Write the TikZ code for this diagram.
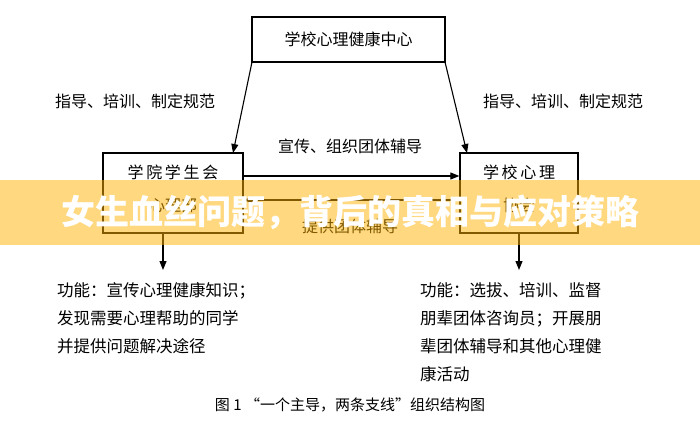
\documentclass[tikz,border=0pt]{standalone}
\usepackage{fontspec}
\setmainfont{Noto Sans CJK SC}
\usetikzlibrary{arrows.meta}
\begin{document}
\begin{tikzpicture}[x=1pt,y=-1pt,
  box/.style={draw,line width=1.3pt,inner sep=0pt},
  lbl/.style={font=\fontsize{16}{18}\selectfont},
  arr/.style={line width=1.1pt,-{Triangle[length=9pt,width=7pt]}},
  txt/.style={font=\fontsize{16.5}{28}\selectfont,align=left,anchor=north west,inner sep=0pt}]
\useasboundingbox (0,0) rectangle (700,422);
\fill[white] (0,0) rectangle (700,422);
\node[box,minimum width=193pt,minimum height=45pt,lbl] (top) at (348.5,39.5) {学校心理健康中心};
\node[box,minimum width=140pt,minimum height=80pt] (L) at (173,193) {};
\node[box,minimum width=118pt,minimum height=80pt] (R) at (519,193) {};
\node[lbl] (l1) at (173,172) {学\,院\,学\,生\,会};
\node[lbl] (l2) at (173,205) {心理部};
\node[lbl] (r1) at (519,172) {学\,校\,心\,理};
\node[lbl] (r2) at (519,205) {协会};
\coordinate (tl) at (252,62); \coordinate (ltr) at (233,153);
\coordinate (tr) at (445,62); \coordinate (rtl) at (467,153);
\draw[arr] (tl) -- (ltr);
\draw[arr] (tr) -- (rtl);
\node[lbl] (a1) at (135,101) {指导、培训、制定规范};
\node[lbl] (a2) at (563,101) {指导、培训、制定规范};
\draw[arr] (L.east |- 0,176) -- (R.west |- 0,176);
\draw[arr] (R.west |- 0,200) -- (L.east |- 0,200);
\node[lbl] (m1) at (350,146) {宣传、组织团体辅导};
\node[lbl] (m2) at (350,226) {提供团体辅导};
\coordinate (ld) at (163,270); \coordinate (rd) at (519,270);
\draw[arr] (163,233) -- (ld);
\draw[arr] (519,233) -- (rd);
\node[txt] (lt) at (57,282) {功能：宣传心理健康知识；\\发现需要心理帮助的同学\\并提供问题解决途径};
\node[txt] (rt) at (420,282) {功能：选拔、培训、监督\\朋辈团体咨询员；开展朋\\辈团体辅导和其他心理健\\康活动};
\node[font=\fontsize{15}{16}\selectfont] (cap) at (350,405) {图 1 “一个主导，两条支线”组织结构图};
\fill[orange!60!yellow,opacity=0.5] (0,180) rectangle (700,245);
\node[text=white,font=\fontsize{34}{36}\selectfont\bfseries] (ban) at (350,212) {女生血丝问题，背后的真相与应对策略};
\end{tikzpicture}
\end{document}
